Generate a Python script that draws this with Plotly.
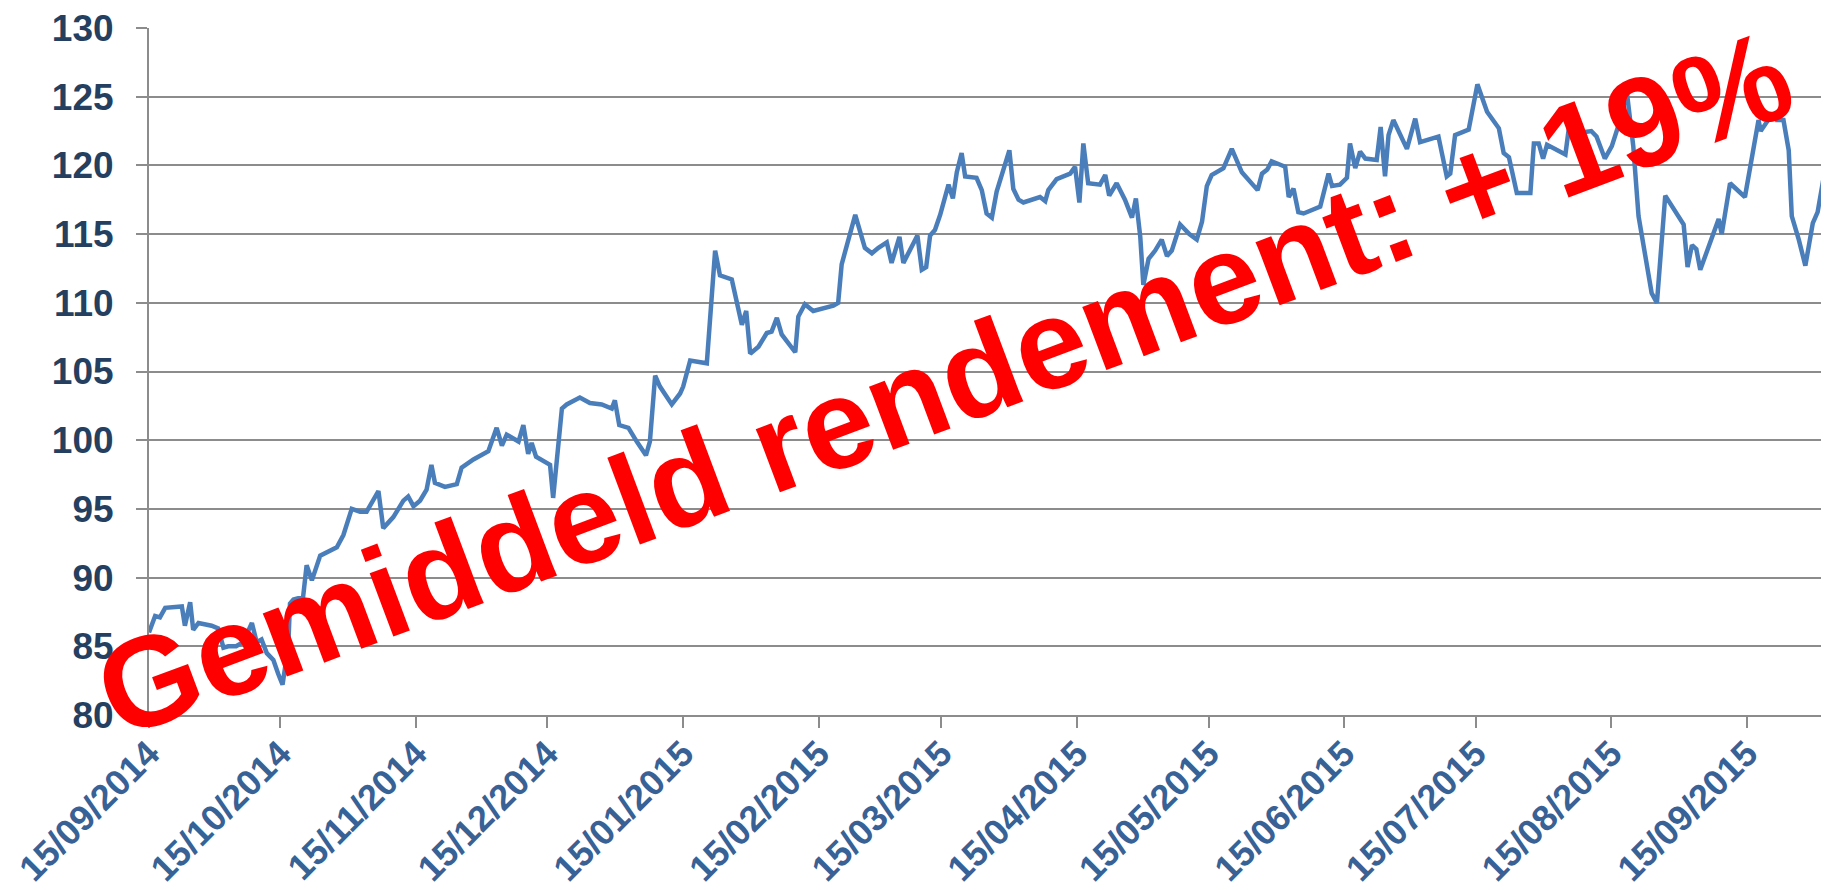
import pandas as pd
import plotly.graph_objects as go

# Day offsets from 15/09/2014 and index values
start_date = "2014-09-15"
day_offsets = [
    0.0, 1.4, 2.5, 3.7, 7.5, 8.2, 9.4, 10.1, 11.3, 14.3, 15.8, 17.0, 18.1, 19.9, 21.5, 23.5,
    24.6, 25.7, 26.9, 28.4, 29.5, 30.5, 31.8, 32.2, 33.0, 35.2, 36.0, 37.2, 39.1, 41.3, 42.9,
    44.4, 46.3, 48.2, 49.7, 52.4, 53.5, 55.8, 56.9, 58.1, 59.2, 60.4, 61.9, 63.4, 64.5, 65.3,
    67.6, 70.3, 71.4, 74.1, 77.5, 79.4, 80.6, 81.7, 84.4, 85.5, 86.6, 87.4, 88.4, 90.5, 91.6,
    92.3, 94.3, 95.4, 98.4, 100.7, 103.4, 105.7, 106.4, 107.4, 109.5, 111.4, 113.5, 114.4,
    115.6, 116.7, 119.4, 121.3, 122.0, 123.6, 127.4, 129.3, 130.4, 133.1, 134.6, 135.4, 136.4,
    137.3, 139.2, 141.1, 142.2, 143.4, 144.5, 147.6, 148.3, 149.8, 151.7, 156.3, 157.4, 158.2,
    159.4, 161.3, 163.5, 165.1, 166.6, 168.5, 169.6, 171.4, 172.3, 173.8, 175.5, 176.5, 177.5,
    178.4, 179.5, 180.7, 182.6, 183.6, 184.5, 185.6, 186.4, 189.0, 190.2, 191.3, 192.5, 193.6,
    196.5, 197.4, 198.6, 199.7, 203.5, 204.7, 205.4, 207.3, 210.4, 211.5, 212.5, 213.4, 214.5,
    217.2, 218.4, 219.3, 221.0, 222.9, 224.5, 225.4, 226.4, 227.1, 228.3, 229.8, 231.3, 232.5,
    233.6, 235.5, 237.6, 239.3, 240.5, 241.6, 242.7, 245.4, 247.3, 249.6, 253.2, 254.2, 255.4,
    256.4, 259.5, 260.3, 261.4, 262.5, 263.7, 267.5, 269.4, 270.2, 272.0, 273.6, 274.3, 275.5,
    276.6, 277.8, 280.4, 281.3, 282.3, 283.1, 284.2, 287.3, 289.2, 290.3, 294.5, 296.4, 297.2,
    298.3, 301.4, 303.4, 305.6, 308.3, 309.4, 310.6, 312.4, 315.5, 316.3, 317.4, 318.4, 319.3,
    323.5, 324.4, 325.4, 327.3, 329.4, 330.6, 332.5, 334.1, 336.0, 337.5, 339.0, 340.2, 341.7,
    343.2, 344.4, 346.3, 350.5, 351.4, 352.4, 353.4, 354.3, 358.5, 359.2, 361.1, 364.5, 365.7,
    366.4, 367.6, 368.1, 369.8, 371.4, 371.8, 373.3, 374.5, 375.2, 376.8, 378.3, 380.0, 381.1,
    382.3, 384.5,
]
index_values = [
    86.0, 87.2, 87.1, 87.8, 87.9, 86.5, 88.2, 86.2, 86.7, 86.5, 86.3, 84.9, 85.0, 85.0, 85.3, 86.7,
    85.3, 85.5, 84.5, 84.0, 83.0, 82.2, 85.0, 88.1, 88.4, 88.6, 90.9, 89.8, 91.6, 92.0, 92.2,
    93.1, 95.0, 94.8, 94.8, 96.3, 93.6, 94.4, 95.0, 95.6, 95.9, 95.2, 95.6, 96.4, 98.2, 96.9,
    96.6, 96.8, 98.0, 98.6, 99.2, 100.9, 99.6, 100.4, 99.9, 101.1, 99.0, 99.8, 98.8, 98.4, 98.2,
    95.8, 102.3, 102.6, 103.1, 102.7, 102.6, 102.3, 102.9, 101.1, 100.9, 99.9, 98.9, 99.9,
    104.7, 103.9, 102.6, 103.4, 103.9, 105.8, 105.6, 113.8, 112.0, 111.7, 109.7, 108.4, 109.4,
    106.3, 106.8, 107.8, 107.9, 108.9, 107.7, 106.4, 109.0, 109.9, 109.4, 109.8, 110.0, 112.8,
    114.2, 116.4, 114.0, 113.6, 114.0, 114.4, 112.9, 114.8, 112.9, 113.8, 114.9, 112.4, 112.6,
    114.9, 115.3, 116.4, 118.6, 117.6, 119.5, 120.9, 119.2, 119.1, 118.2, 116.5, 116.2, 118.1,
    121.1, 118.3, 117.5, 117.3, 117.7, 117.4, 118.2, 119.0, 119.4, 119.9, 117.3, 121.6, 118.7,
    118.6, 119.3, 117.8, 118.7, 117.5, 116.2, 117.6, 114.8, 111.3, 113.2, 113.8, 114.6, 113.4,
    113.8, 115.7, 115.0, 114.6, 115.9, 118.5, 119.3, 119.8, 121.2, 119.5, 118.2, 119.4, 119.7,
    120.3, 119.9, 117.7, 118.3, 116.6, 116.5, 117.0, 119.4, 118.5, 118.6, 119.1, 121.6, 119.8,
    121.0, 120.5, 120.4, 122.8, 119.2, 122.2, 123.3, 121.2, 123.4, 121.7, 122.1, 119.2, 119.4,
    122.2, 122.6, 125.9, 123.9, 122.7, 120.9, 120.6, 118.0, 118.0, 121.6, 121.6, 120.5, 121.5,
    120.8, 123.0, 122.0, 122.4, 122.5, 122.1, 120.5, 121.4, 123.3, 125.4, 121.4, 116.3, 113.6,
    110.7, 110.0, 117.8, 115.7, 112.6, 114.2, 113.9, 112.4, 116.1, 115.0, 118.7, 117.7, 119.9,
    121.1, 123.3, 122.5, 123.3, 123.6, 123.3, 123.3, 121.1, 116.3, 114.6, 112.7, 115.8, 116.6,
    118.8, 118.8,
]

tick_dates = ["2014-09-15", "2014-10-15", "2014-11-15", "2014-12-15", "2015-01-15",
              "2015-02-15", "2015-03-15", "2015-04-15", "2015-05-15", "2015-06-15",
              "2015-07-15", "2015-08-15", "2015-09-15"]
tick_labels = ["15/09/2014", "15/10/2014", "15/11/2014", "15/12/2014", "15/01/2015",
               "15/02/2015", "15/03/2015", "15/04/2015", "15/05/2015", "15/06/2015",
               "15/07/2015", "15/08/2015", "15/09/2015"]
y_ticks = [80, 85, 90, 95, 100, 105, 110, 115, 120, 125, 130]
visible_days = 383.7
overlay_text = "Gemiddeld rendement: + 19%"

t0 = pd.Timestamp(start_date)
dates = t0 + pd.to_timedelta(day_offsets, unit="D")
x_end = t0 + pd.to_timedelta(visible_days, unit="D")

fig = go.Figure()
fig.add_trace(go.Scatter(
    x=dates, y=index_values, mode="lines",
    line=dict(color="#4A7EBB", width=4.5),
    showlegend=False, hoverinfo="skip",
))

# The page body keeps the browser's default 8px margin, so the figure is
# sized and margined to land on the reference's pixel grid.
fig.update_layout(
    width=1821, height=882,
    margin=dict(l=141, r=0, t=20, b=175, autoexpand=False),
    paper_bgcolor="white", plot_bgcolor="white",
    xaxis=dict(
        type="date", range=[t0, x_end], automargin=False,
        tickmode="array", tickvals=tick_dates, ticktext=tick_labels,
        tickangle=-45, ticks="outside", ticklen=11, tickwidth=2, tickcolor="#8C8C8C",
        ticklabelstandoff=-10, ticklabeloverflow="allow",
        showline=True, linecolor="#8C8C8C", linewidth=2,
        showgrid=False, zeroline=False,
        tickfont=dict(family="Liberation Sans", size=36, color="#386195", weight="bold"),
    ),
    yaxis=dict(
        range=[80, 130], tickmode="array", tickvals=y_ticks, automargin=False,
        ticks="outside", ticklen=11, tickwidth=2, tickcolor="#8C8C8C",
        ticklabelstandoff=15, ticklabeloverflow="allow",
        showline=True, linecolor="#8C8C8C", linewidth=2,
        showgrid=True, gridcolor="#8C8C8C", gridwidth=1.8, zeroline=False,
        tickfont=dict(family="Liberation Sans", size=37, color="#243F60", weight="bold"),
    ),
)

fig.add_annotation(
    text=overlay_text, xref="paper", yref="paper", x=0.473, y=0.483,
    xanchor="center", yanchor="middle", showarrow=False, textangle=-20.5,
    font=dict(family="Liberation Sans", size=128, color="#FF0000", weight="bold"),
)

fig.write_html("out.html")
